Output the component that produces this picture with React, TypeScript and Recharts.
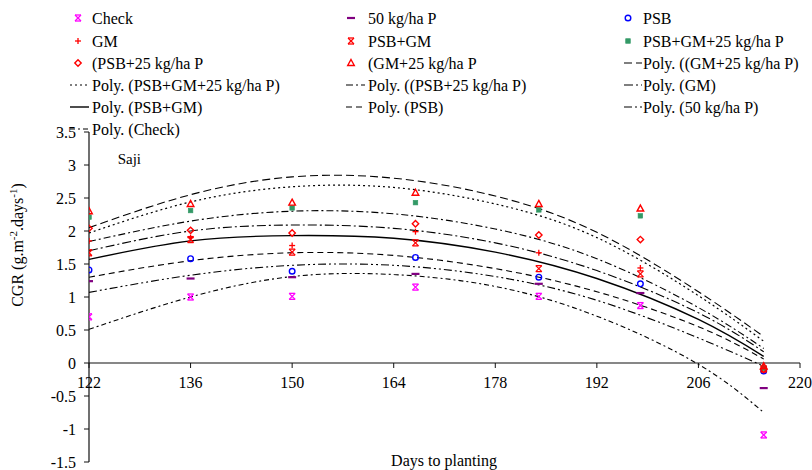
import React from "react";
import {
  ComposedChart,
  Line,
  Scatter,
  XAxis,
  YAxis,
  ReferenceLine,
  ReferenceDot,
} from "recharts";

// ---------- data ----------
const days = [122, 136, 150, 167, 184, 198, 215];
const check = [0.7, 1.0, 1.01, 1.15, 1.01, 0.87, -1.09];
const p50 = [1.24, 1.28, 1.3, 1.35, 1.2, 1.06, -0.38];
const psb = [1.41, 1.58, 1.39, 1.6, 1.3, 1.2, -0.12];
const gm = [1.85, 1.9, 1.78, 1.99, 1.67, 1.44, -0.06];
const psbGm = [1.67, 1.87, 1.68, 1.82, 1.43, 1.35, -0.09];
const psbGm25 = [2.21, 2.31, 2.35, 2.43, 2.32, 2.23, -0.08];
const psb25 = [2.04, 2.01, 1.97, 2.11, 1.94, 1.87, -0.1];
const gm25 = [2.3, 2.41, 2.43, 2.58, 2.41, 2.34, -0.05];

// polynomial trend lines
const trendDays = [122, 136, 150, 164, 178, 192, 206, 215];
const polyGm25 = [2.05, 2.55, 2.82, 2.8, 2.53, 1.98, 1.08, 0.4];
const polyPsbGm25 = [1.97, 2.44, 2.67, 2.66, 2.41, 1.9, 1.02, 0.33];
const polyPsb25 = [1.84, 2.15, 2.3, 2.26, 2.03, 1.58, 0.84, 0.22];
const polyGm = [1.7, 2.0, 2.09, 2.04, 1.82, 1.4, 0.76, 0.17];
const polyPsbGm = [1.57, 1.85, 1.93, 1.89, 1.68, 1.28, 0.66, 0.1];
const polyPsb = [1.3, 1.55, 1.67, 1.63, 1.43, 1.08, 0.55, 0.06];
const polyP50 = [1.07, 1.33, 1.48, 1.48, 1.31, 0.95, 0.38, -0.05];
const polyCheck = [0.51, 1.0, 1.31, 1.34, 1.16, 0.71, -0.02, -0.75];

const xTicks = [122, 136, 150, 164, 178, 192, 206, 220];
const yTicks = [-1.5, -1, -0.5, 0, 0.5, 1, 1.5, 2, 2.5, 3, 3.5];

const xTitle = "Days to planting";
const siteLabel = "Saji";

// ---------- styles ----------
const FONT =
  "'Liberation Serif', 'Times New Roman', Tinos, 'Nimbus Roman', 'Noto Serif', 'DejaVu Serif', FreeSerif, serif";
const fontStyle = { fontFamily: FONT };

const toPoints = (xs: number[], ys: number[]) =>
  xs.map((x, i) => ({ x, y: ys[i] }));

type Kind = "star" | "dash" | "circle" | "plus" | "square" | "diamond" | "triangle";

const pointSeries: { name: string; values: number[]; kind: Kind; color: string }[] = [
  { name: "Check", values: check, kind: "star", color: "#FF00FF" },
  { name: "50 kg/ha P", values: p50, kind: "dash", color: "#800080" },
  { name: "PSB", values: psb, kind: "circle", color: "#0000FF" },
  { name: "GM", values: gm, kind: "plus", color: "#FF0000" },
  { name: "PSB+GM", values: psbGm, kind: "star", color: "#FF0000" },
  { name: "PSB+GM+25 kg/ha P", values: psbGm25, kind: "square", color: "#339966" },
  { name: "(PSB+25 kg/ha P", values: psb25, kind: "diamond", color: "#FF0000" },
  { name: "(GM+25 kg/ha P", values: gm25, kind: "triangle", color: "#FF0000" },
];

const lineSeries: { name: string; values: number[]; dash: string; width: number }[] = [
  { name: "Poly. ((GM+25 kg/ha P)", values: polyGm25, dash: "8 4", width: 1.1 },
  { name: "Poly. (PSB+GM+25 kg/ha P)", values: polyPsbGm25, dash: "2 3", width: 1.2 },
  { name: "Poly. ((PSB+25 kg/ha P)", values: polyPsb25, dash: "7 3 2 3", width: 1.1 },
  { name: "Poly. (GM)", values: polyGm, dash: "9 3 2 3", width: 1.1 },
  { name: "Poly. (PSB+GM)", values: polyPsbGm, dash: "", width: 1.4 },
  { name: "Poly. (PSB)", values: polyPsb, dash: "6 4", width: 1.1 },
  { name: "Poly. (50 kg/ha P)", values: polyP50, dash: "8 3 2 3 2 3", width: 1.1 },
  { name: "Poly. (Check)", values: polyCheck, dash: "5 3 2 3", width: 1.1 },
];

function Marker({ kind, color, cx, cy }: { kind: Kind; color: string; cx: number; cy: number }) {
  const s = 3;
  switch (kind) {
    case "star":
      return (
        <g stroke={color} strokeWidth={1.3} fill="none">
          <line x1={cx - s} y1={cy - s} x2={cx + s} y2={cy + s} />
          <line x1={cx - s} y1={cy + s} x2={cx + s} y2={cy - s} />
          <line x1={cx - s} y1={cy - s} x2={cx + s} y2={cy - s} />
          <line x1={cx - s} y1={cy + s} x2={cx + s} y2={cy + s} />
        </g>
      );
    case "dash":
      return <line x1={cx - 4} y1={cy} x2={cx + 4} y2={cy} stroke={color} strokeWidth={2.2} />;
    case "circle":
      return <circle cx={cx} cy={cy} r={2.8} stroke={color} strokeWidth={1.4} fill="none" />;
    case "plus":
      return (
        <g stroke={color} strokeWidth={1.3}>
          <line x1={cx - s} y1={cy} x2={cx + s} y2={cy} />
          <line x1={cx} y1={cy - s} x2={cx} y2={cy + s} />
        </g>
      );
    case "square":
      return <rect x={cx - 2.3} y={cy - 2.3} width={4.6} height={4.6} fill={color} stroke={color} strokeWidth={0.6} />;
    case "diamond":
      return (
        <polygon
          points={`${cx},${cy - 3.2} ${cx + 3.2},${cy} ${cx},${cy + 3.2} ${cx - 3.2},${cy}`}
          stroke={color}
          strokeWidth={1.4}
          fill="none"
        />
      );
    case "triangle":
      return (
        <polygon
          points={`${cx},${cy - 3.5} ${cx + 3.3},${cy + 2.5} ${cx - 3.3},${cy + 2.5}`}
          stroke={color}
          strokeWidth={1.4}
          fill="none"
        />
      );
  }
  return null;
}

// legend entries, in the reference's row-major order
const legendEntries: ({ label: string } & ({ kind: Kind; color: string } | { dash: string; width: number }))[] = [
  ...pointSeries.map((s) => ({ label: s.name, kind: s.kind, color: s.color })),
  ...lineSeries.map((s) => ({ label: s.name, dash: s.dash, width: s.width })),
];

const legendCols = [
  { marker: 78, lineFrom: 70, lineTo: 89, text: 92 },
  { marker: 351, lineFrom: 346, lineTo: 365, text: 368 },
  { marker: 628, lineFrom: 624, lineTo: 642, text: 643 },
];
const legendRowY = [18, 41, 63, 85, 107, 129];

function Legend() {
  return (
    <g style={fontStyle} fontSize={16} fill="#000">
      {legendEntries.map((e, i) => {
        const col = legendCols[i % 3];
        const y = legendRowY[Math.floor(i / 3)];
        return (
          <g key={e.label}>
            {"kind" in e ? (
              <Marker kind={e.kind} color={e.color} cx={col.marker} cy={y} />
            ) : (
              <line
                x1={col.lineFrom}
                x2={col.lineTo}
                y1={y}
                y2={y}
                stroke="#000"
                strokeWidth={e.width}
                strokeDasharray={e.dash || undefined}
              />
            )}
            <text x={col.text} y={y + 5.5} style={fontStyle}>
              {e.label}
            </text>
          </g>
        );
      })}
    </g>
  );
}

export default function App() {
  return (
    <div style={{ position: "relative", width: 812, height: 470, background: "#fff", overflow: "hidden", fontFamily: FONT }}>
      <style>{"html,body{margin:0;padding:0;overflow:hidden;background:#fff}"}</style>
      <ComposedChart
        width={812}
        height={470}
        margin={{ top: 132, right: 12, bottom: 8, left: 29 }}
        style={fontStyle}
      >
        <XAxis type="number" dataKey="x" domain={[122, 220]} ticks={xTicks} hide allowDataOverflow />
        <YAxis
          type="number"
          dataKey="y"
          domain={[-1.5, 3.5]}
          ticks={yTicks}
          interval={0}
          allowDataOverflow
          width={60}
          tickSize={5}
          tickMargin={8}
          axisLine={{ stroke: "#111", strokeWidth: 1.2 }}
          tickLine={{ stroke: "#111" }}
          tick={{ fill: "#000", fontSize: 16, style: fontStyle }}
        />
        <ReferenceLine y={0} stroke="#111" strokeWidth={1.2} />
        {xTicks.map((t) => (
          <ReferenceDot
            key={"xt" + t}
            x={t}
            y={0}
            ifOverflow="visible"
            shape={(p: any) => (
              <g>
                <line x1={p.cx} y1={p.cy} x2={p.cx} y2={p.cy + 5} stroke="#111" />
                <text x={p.cx} y={p.cy + 25} textAnchor="middle" style={fontStyle} fontSize={16} fill="#000">
                  {t}
                </text>
              </g>
            )}
          />
        ))}
        <ReferenceDot
          x={126.5}
          y={3.09}
          ifOverflow="visible"
          shape={(p: any) => (
            <text x={p.cx - 4} y={p.cy + 5} style={fontStyle} fontSize={15} fill="#000">
              {siteLabel}
            </text>
          )}
        />
        {lineSeries.map((s) => (
          <Line
            key={s.name}
            name={s.name}
            data={toPoints(trendDays, s.values)}
            dataKey="y"
            type="natural"
            stroke="#000"
            strokeWidth={s.width}
            strokeDasharray={s.dash || undefined}
            dot={false}
            activeDot={false}
            isAnimationActive={false}
          />
        ))}
        {pointSeries.map((s) => (
          <Scatter
            key={s.name}
            name={s.name}
            data={toPoints(days, s.values)}
            dataKey="y"
            isAnimationActive={false}
            shape={(p: any) => <Marker kind={s.kind} color={s.color} cx={p.cx} cy={p.cy} />}
          />
        ))}
      </ComposedChart>
      <svg
        width={812}
        height={470}
        style={{ position: "absolute", left: 0, top: 0, pointerEvents: "none", fontFamily: FONT }}
      >
        <Legend />
        <text transform="translate(23,245) rotate(-90)" textAnchor="middle" style={fontStyle} fontSize={16} fill="#000">
          CGR (g.m
          <tspan dy={-6} fontSize={11}>-2</tspan>
          <tspan dy={6}>.days</tspan>
          <tspan dy={-6} fontSize={11}>-1</tspan>
          <tspan dy={6}>)</tspan>
        </text>
        <text x={444} y={466} textAnchor="middle" style={fontStyle} fontSize={16} fill="#000">
          {xTitle}
        </text>
      </svg>
    </div>
  );
}
